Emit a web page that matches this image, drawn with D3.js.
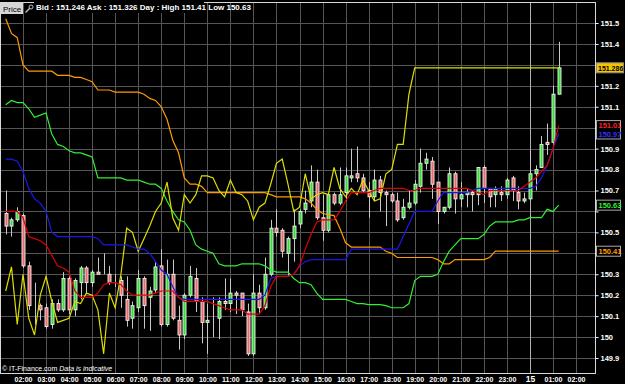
<!DOCTYPE html>
<html>
<head>
<meta charset="utf-8">
<script src="https://cdn.jsdelivr.net/npm/d3@7"></script>
<style>
body { margin: 0; background: #000; }
svg { display: block; }
text { font-family: "Liberation Sans", Arial, sans-serif; }
</style>
</head>
<body>
<div id="chart"></div>
<script>
// 15 minute candles, 01:15 (14th) -> 01:15 (15th)
var opens = [150.59,150.53,150.56,150.58,150.34,150.15,150.15,150.14,150.06,150.16,
  150.13,150.28,150.13,150.26,150.33,150.26,150.31,150.30,150.30,150.27,
  150.27,150.18,150.09,150.14,150.28,150.19,150.225,150.34,150.06,150.30,
  150.08,150.01,150.20,150.28,150.17,150.07,150.09,150.09,150.17,150.16,
  150.21,150.21,150.12,149.92,150.21,150.14,150.30,150.52,150.51,150.40,
  150.47,150.54,150.61,150.65,150.74,150.57,150.51,150.68,150.64,150.69,
  150.76,150.78,150.76,150.70,150.67,150.75,150.69,150.68,150.65,150.57,
  150.62,150.64,150.72,150.83,150.84,150.74,150.60,150.62,150.78,150.66,
  150.68,150.69,150.68,150.81,150.71,150.68,150.69,150.68,150.76,150.69,
  150.65,150.66,150.78,150.81,150.93,150.93,151.16];
var highs = [150.70,150.57,150.62,150.59,150.36,150.26,150.16,150.16,150.18,150.18,
  150.31,150.29,150.28,150.34,150.34,150.32,150.38,150.40,150.34,150.30,
  150.29,150.29,150.17,150.32,150.29,150.24,150.36,150.42,150.37,150.37,
  150.15,150.21,150.34,150.33,150.19,150.16,150.19,150.19,150.28,150.28,
  150.22,150.21,150.16,150.30,150.25,150.38,150.56,150.61,150.52,150.48,
  150.61,150.61,150.70,150.82,150.80,150.68,150.69,150.69,150.81,150.81,
  150.90,150.91,150.78,150.74,150.80,150.77,150.70,150.69,150.69,150.66,
  150.70,150.75,150.90,150.88,150.86,150.74,150.62,150.81,150.79,150.74,
  150.71,150.70,150.81,150.82,150.71,150.72,150.72,150.76,150.77,150.72,
  150.69,150.89,150.82,150.96,151.02,151.20,151.41];
var lows = [150.49,150.48,150.55,150.33,150.13,150.06,150.08,150.04,150.04,150.12,
  150.12,150.11,150.10,150.18,150.21,150.24,150.30,150.30,150.25,150.24,
  150.14,150.05,150.04,150.12,150.04,150.03,150.21,150.05,150.05,150.08,
  149.94,149.99,150.19,150.12,149.97,149.92,150.00,149.99,150.13,150.12,
  150.11,150.10,149.91,149.91,150.11,150.13,150.29,150.48,150.38,150.29,
  150.36,150.52,150.59,150.62,150.56,150.46,150.50,150.63,150.63,150.65,
  150.74,150.74,150.69,150.57,150.65,150.60,150.53,150.64,150.55,150.56,
  150.61,150.63,150.69,150.80,150.66,150.54,150.59,150.61,150.59,150.62,
  150.62,150.60,150.63,150.64,150.62,150.62,150.65,150.66,150.65,150.61,
  150.64,150.65,150.70,150.81,150.87,150.91,151.16];
var closes = [150.53,150.56,150.60,150.34,150.15,150.15,150.13,150.05,150.16,150.13,
  150.28,150.13,150.27,150.33,150.26,150.31,150.30,150.30,150.26,150.27,
  150.20,150.08,150.15,150.28,150.15,150.22,150.335,150.06,150.30,150.09,
  150.01,150.20,150.29,150.17,150.07,150.08,150.09,150.17,150.16,150.21,
  150.20,150.13,149.92,150.21,150.14,150.30,150.52,150.50,150.41,150.47,
  150.53,150.60,150.64,150.74,150.57,150.51,150.68,150.64,150.68,150.77,
  150.77,150.76,150.70,150.67,150.75,150.69,150.68,150.65,150.56,150.62,
  150.64,150.73,150.83,150.85,150.73,150.60,150.62,150.78,150.66,150.68,
  150.69,150.68,150.81,150.71,150.67,150.71,150.68,150.75,150.70,150.65,
  150.66,150.78,150.80,150.92,150.92,151.16,151.286];

// ichimoku lines
var tenkan = [150.60,150.60,150.60,150.57,150.48,150.47,150.46,150.44,150.39,150.34,
  150.33,150.31,150.22,150.19,150.19,150.19,150.21,150.25,150.26,150.26,
  150.25,150.22,150.20,150.20,150.20,150.20,150.21,150.22,150.22,150.22,
  150.19,150.17,150.17,150.17,150.17,150.17,150.16,150.15,150.14,150.13,
  150.13,150.13,150.11,150.11,150.11,150.15,150.24,150.29,150.29,150.29,
  150.30,150.34,150.42,150.49,150.55,150.56,150.56,150.56,150.60,150.65,
  150.69,150.69,150.69,150.69,150.70,150.71,150.71,150.71,150.71,150.71,
  150.70,150.70,150.71,150.71,150.71,150.71,150.71,150.71,150.71,150.71,
  150.71,150.70,150.69,150.68,150.70,150.70,150.70,150.70,150.70,150.70,
  150.72,150.74,150.76,150.79,150.82,150.90,151.01];
var kijun = [150.85,150.85,150.84,150.79,150.71,150.66,150.64,150.60,150.50,150.48,
  150.48,150.48,150.48,150.48,150.48,150.48,150.47,150.44,150.44,150.44,
  150.44,150.44,150.43,150.42,150.42,150.40,150.36,150.32,150.30,150.24,
  150.19,150.18,150.18,150.18,150.18,150.18,150.18,150.18,150.18,150.18,
  150.18,150.18,150.18,150.18,150.18,150.20,150.28,150.29,150.29,150.29,
  150.30,150.34,150.36,150.37,150.37,150.37,150.37,150.37,150.37,150.37,
  150.42,150.42,150.42,150.42,150.42,150.42,150.42,150.42,150.42,150.48,
  150.54,150.60,150.60,150.60,150.60,150.65,150.69,150.69,150.69,150.69,
  150.69,150.70,150.71,150.71,150.71,150.71,150.71,150.71,150.71,150.71,
  150.71,150.71,150.72,150.76,150.82,150.90,150.97];
var spanA = [151.11,151.13,151.12,151.12,151.09,151.05,151.06,151.07,150.97,150.92,
  150.91,150.89,150.88,150.88,150.87,150.86,150.76,150.76,150.76,150.76,
  150.76,150.75,150.75,150.75,150.74,150.73,150.73,150.71,150.65,150.60,
  150.56,150.55,150.51,150.44,150.42,150.41,150.40,150.35,150.34,150.34,
  150.34,150.35,150.35,150.35,150.35,150.34,150.32,150.31,150.31,150.31,
  150.28,150.26,150.26,150.25,150.21,150.18,150.18,150.18,150.18,150.18,
  150.17,150.16,150.16,150.155,150.155,150.155,150.15,150.14,150.14,150.14,
  150.16,150.27,150.29,150.29,150.29,150.30,150.36,150.41,150.44,150.47,
  150.47,150.47,150.47,150.49,150.53,150.55,150.55,150.55,150.55,150.56,
  150.56,150.57,150.57,150.57,150.61,150.60,150.63];
var spanB = [151.52,151.45,151.43,151.30,151.27,151.27,151.27,151.27,151.27,151.25,
  151.25,151.25,151.24,151.24,151.23,151.22,151.18,151.18,151.18,151.17,
  151.17,151.17,151.17,151.17,151.16,151.14,151.13,151.10,151.04,150.94,
  150.88,150.76,150.73,150.73,150.72,150.69,150.69,150.69,150.69,150.69,
  150.69,150.69,150.69,150.69,150.69,150.69,150.68,150.67,150.67,150.67,
  150.67,150.67,150.66,150.64,150.61,150.59,150.585,150.58,150.52,150.45,
  150.43,150.43,150.43,150.43,150.43,150.43,150.41,150.40,150.38,150.38,
  150.38,150.38,150.38,150.38,150.38,150.37,150.35,150.35,150.37,150.37,
  150.37,150.37,150.37,150.37,150.38,150.41,150.41,150.41,150.41,150.41,
  150.41,150.41,150.41,150.41,150.41,150.41,150.41];
var chikou = [150.22,150.335,150.06,150.30,150.09,150.01,150.20,150.29,150.17,150.07,
  150.08,150.09,150.17,150.16,150.21,150.20,150.13,149.92,150.21,150.14,
  150.30,150.52,150.50,150.41,150.47,150.53,150.60,150.64,150.74,150.57,
  150.51,150.68,150.64,150.68,150.77,150.77,150.76,150.70,150.67,150.75,
  150.69,150.68,150.65,150.56,150.62,150.64,150.73,150.83,150.85,150.73,
  150.60,150.62,150.78,150.66,150.68,150.69,150.68,150.81,150.71,150.67,
  150.71,150.68,150.75,150.70,150.65,150.66,150.78,150.80,150.92,150.92,
  151.16,151.286,151.286,151.286,151.286,151.286,151.286,151.286,151.286,151.286,
  151.286,151.286,151.286,151.286,151.286,151.286,151.286,151.286,151.286,151.286,
  151.286,151.286,151.286,151.286,151.286,151.286,151.286];

var priceTicks = [149.9,150.0,150.1,150.2,150.3,150.4,150.5,150.6,150.7,150.8,
  150.9,151.0,151.1,151.2,151.3,151.4,151.5];
var hourLabels = ["02:00","03:00","04:00","05:00","06:00","07:00","08:00","09:00",
  "10:00","11:00","12:00","13:00","14:00","15:00","16:00","17:00","18:00","19:00",
  "20:00","21:00","22:00","23:00","15","01:00","02:00"];

var quote = {bid: "151.246", ask: "151.326", high: "151.41", low: "150.63"};

var times = opens.map(function(d, i){ return new Date(Date.UTC(2024, 0, 14, 1, 15 + 15 * i)); });
var hourTimes = hourLabels.map(function(d, i){ return new Date(Date.UTC(2024, 0, 14, 2 + i)); });

var plot = {left: 0, top: 2, right: 595, bottom: 373};
var axisFont = "'Liberation Sans', Arial, sans-serif";

var svg = d3.select("#chart").append("svg")
    .attr("width", 625)
    .attr("height", 384)
    .style("background", "#000");

var x = d3.scaleUtc()
    .domain([hourTimes[0], hourTimes[hourTimes.length - 1]])
    .range([23, 576]);

var y = d3.scaleLinear()
    .domain([149.9, 151.5])
    .range([358, 23]);

// grid
svg.append("g").selectAll("line")
    .data(priceTicks)
    .enter().append("line")
    .attr("x1", plot.left).attr("x2", plot.right)
    .attr("y1", function(d){ return Math.round(y(d)) + 0.5; })
    .attr("y2", function(d){ return Math.round(y(d)) + 0.5; })
    .attr("stroke", "#555");

svg.append("g").selectAll("line")
    .data(hourTimes)
    .enter().append("line")
    .attr("x1", function(d){ return Math.round(x(d)) + 0.5; })
    .attr("x2", function(d){ return Math.round(x(d)) + 0.5; })
    .attr("y1", plot.top).attr("y2", plot.bottom)
    .attr("stroke", function(d, i){ return hourLabels[i] == "15" ? "#b0b0b0" : "#555"; });

// candles
var candles = svg.append("g");
candles.selectAll("line")
    .data(opens)
    .enter().append("line")
    .attr("x1", function(d, i){ return Math.round(x(times[i])) + 0.5; })
    .attr("x2", function(d, i){ return Math.round(x(times[i])) + 0.5; })
    .attr("y1", function(d, i){ return y(highs[i]); })
    .attr("y2", function(d, i){ return y(lows[i]); })
    .attr("stroke", "#c8c8c8");

candles.selectAll("rect")
    .data(opens)
    .enter().append("rect")
    .attr("x", function(d, i){ return Math.round(x(times[i])) - 1; })
    .attr("width", 3)
    .attr("y", function(d, i){ return y(Math.max(d, closes[i])); })
    .attr("height", function(d, i){ return Math.abs(y(d) - y(closes[i])); })
    .attr("fill", function(d, i){ return closes[i] >= d ? "#33dd33" : "#ec6a6a"; })
    .attr("stroke", "#f0f0f0")
    .attr("stroke-width", 0.9);

// lines
var line = d3.line()
    .x(function(d, i){ return x(times[i]); })
    .y(function(d){ return y(d); });

var series = [
    {values: spanB, color: "#ff9a00"},
    {values: spanA, color: "#33ee33"},
    {values: chikou, color: "#dede00"},
    {values: kijun, color: "#1818e8"},
    {values: tenkan, color: "#dd0000"}
];
series.forEach(function(s){
    svg.append("path")
        .attr("d", line(s.values))
        .attr("fill", "none")
        .attr("stroke", s.color)
        .attr("stroke-width", 1.2);
});

// frame
svg.append("rect")
    .attr("x", plot.left + 0.5).attr("y", plot.top + 0.5)
    .attr("width", plot.right - plot.left).attr("height", plot.bottom - plot.top)
    .attr("fill", "none")
    .attr("stroke", "#d8d8d8");

// axes
var last = opens.length - 1;
var covered = [151.3, 151.0, 150.6, 150.4]; // hidden under the value boxes

var yAxis = d3.axisRight(y)
    .tickValues(priceTicks)
    .tickSize(3)
    .tickPadding(2)
    .tickFormat(function(d){ return covered.indexOf(d) >= 0 ? "" : +d.toFixed(1); });

var gy = svg.append("g")
    .attr("transform", "translate(" + (plot.right + 0.5) + ",0)")
    .call(yAxis);
gy.select(".domain").remove();
gy.selectAll(".tick line").attr("stroke", "#fff");
gy.selectAll(".tick text")
    .attr("fill", "#fff")
    .style("font-size", "7.5px")
    .style("font-weight", "bold")
    .style("font-family", axisFont);

var xAxis = d3.axisBottom(x)
    .tickValues(hourTimes)
    .tickSize(0)
    .tickPadding(4)
    .tickFormat(function(d, i){ return hourLabels[i]; });

var gx = svg.append("g")
    .attr("transform", "translate(0," + plot.bottom + ")")
    .call(xAxis);
gx.select(".domain").remove();
gx.selectAll(".tick text")
    .attr("fill", "#fff")
    .attr("y", function(d, i){ return hourLabels[i] == "15" ? 3 : 4; })
    .style("font-size", function(d, i){ return hourLabels[i] == "15" ? "8.5px" : "7px"; })
    .style("font-weight", "bold")
    .style("font-family", axisFont);

// value labels on the price axis
svg.append("rect")
    .attr("x", 596.5).attr("y", y(closes[last]) - 5)
    .attr("width", 27).attr("height", 10)
    .attr("fill", "#f5c400")
    .attr("stroke", "#888");
svg.append("text")
    .attr("x", 598).attr("y", y(closes[last]) + 2.8)
    .attr("fill", "#000")
    .style("font-size", "7px").style("font-weight", "bold")
    .text(closes[last].toFixed(3));

svg.append("rect")
    .attr("x", 596.5).attr("y", y(tenkan[last]) - 5)
    .attr("width", 24).attr("height", y(kijun[last]) - y(tenkan[last]) + 10)
    .attr("fill", "#000")
    .attr("stroke", "#aaa");

var boxes = [
    {value: tenkan[last], color: "#ff2020", box: false},
    {value: kijun[last], color: "#3030ff", box: false},
    {value: spanA[last], color: "#33ee33", box: true},
    {value: spanB[last], color: "#ff9a00", box: true}
];
boxes.forEach(function(b){
    if (b.box) {
        svg.append("rect")
            .attr("x", 596.5).attr("y", y(b.value) - 5)
            .attr("width", 24).attr("height", 10)
            .attr("fill", "#000")
            .attr("stroke", "#aaa");
    }
    svg.append("text")
        .attr("x", 598.5).attr("y", y(b.value) + 2.8)
        .attr("fill", b.color)
        .style("font-size", "7.5px").style("font-weight", "bold")
        .text(b.value.toFixed(2));
});

// header
svg.append("rect")
    .attr("x", 0).attr("y", 3)
    .attr("width", 23).attr("height", 11)
    .attr("fill", "#d6d6d6");
svg.append("text")
    .attr("x", 3).attr("y", 11.5)
    .attr("fill", "#000")
    .style("font-size", "8px")
    .text("Price");
// wrench icon
svg.append("path")
    .attr("d", "M25.5,12.5 L30,8")
    .attr("stroke", "#bbb").attr("stroke-width", 1.5);
svg.append("circle")
    .attr("cx", 31).attr("cy", 7).attr("r", 2)
    .attr("fill", "none").attr("stroke", "#bbb");
svg.append("rect")
    .attr("x", 34).attr("y", 0)
    .attr("width", 170).attr("height", 13)
    .attr("fill", "#000");
svg.append("text")
    .attr("x", 36).attr("y", 10)
    .attr("fill", "#fff")
    .style("font-size", "8px").style("font-weight", "bold")
    .text("Bid : " + quote.bid + " Ask : " + quote.ask + "  Day : High " + quote.high + " Low " + quote.low);

// footer
var foot = svg.append("text")
    .attr("x", 2).attr("y", 371)
    .attr("fill", "#fff")
    .style("font-size", "7px");
foot.append("tspan").text("© IT-Finance.com  ");
foot.append("tspan").style("font-style", "italic").text("Data is indicative");
</script>
</body>
</html>
